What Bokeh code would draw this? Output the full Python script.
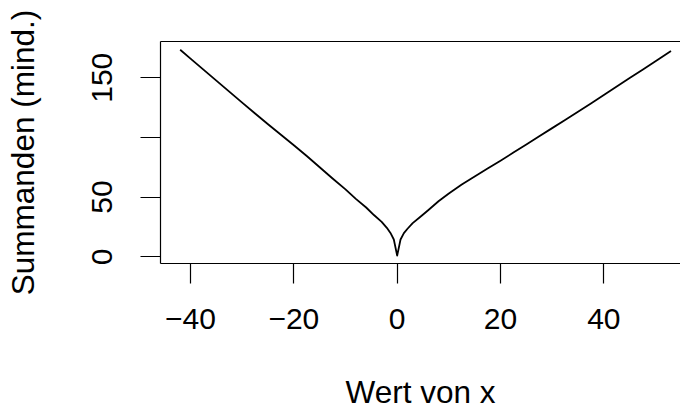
from bokeh.plotting import figure
from bokeh.models import Range1d, LinearAxis, FixedTicker
from bokeh.embed import file_html
from bokeh.resources import INLINE

# values
x_vals = [-42, -40, -37.5, -35, -32.5, -30, -27.5, -25, -22.5, -20, -17.5, -15,
          -12.5, -10, -8, -6, -4.5, -3, -2, -1.3, -0.65, 0,
          0.65, 1.3, 2, 3, 4.5, 6, 8, 10, 12.5, 15, 17.5, 20, 22.5, 25,
          27.5, 30, 32.5, 35, 37.5, 40, 42.5, 45, 47.5, 50, 53]
y_vals = [173.4, 166.0, 156.8, 147.6, 138.4, 129.2, 120.0, 111.0, 102.2, 93.5, 84.4, 75.0,
          65.6, 56.5, 48.5, 41.3, 35.0, 29.3, 24.3, 20.0, 14.5, 1.0,
          14.5, 19.8, 23.5, 28.2, 33.6, 39.0, 46.5, 53.0, 60.5, 67.3, 74.0, 80.5, 87.3, 94.0,
          101.0, 107.8, 114.6, 121.5, 128.4, 135.5, 142.6, 149.7, 156.7, 163.8, 172.3]

x_ticks = [-40, -20, 0, 20, 40]
x_tick_labels = {-40: "\u221240", -20: "\u221220", 0: "0", 20: "20", 40: "40"}
y_ticks = [0, 50, 100, 150]
y_tick_labels = {0: "0", 50: "50", 100: "", 150: "150"}
x_title = "Wert von x"
y_title = "Summanden (mind.)"

FONT = "Liberation Sans"

p = figure(width=680, height=412, output_backend="svg", toolbar_location=None,
           x_range=Range1d(-45.81, 54.84), y_range=Range1d(-5.6, 180.35),
           min_border_left=160, min_border_right=0, min_border_top=41,
           min_border_bottom=149, x_axis_location=None, y_axis_location=None)
p.outline_line_color = None
p.xgrid.visible = False
p.ygrid.visible = False
p.background_fill_color = "white"
p.border_fill_color = "white"

p.line(x_vals, y_vals, line_color="black", line_width=1.8, line_join="round")

xa = LinearAxis(ticker=FixedTicker(ticks=x_ticks), major_label_overrides=x_tick_labels)
ya = LinearAxis(ticker=FixedTicker(ticks=y_ticks), major_label_overrides=y_tick_labels)
for ax in (xa, ya):
    ax.axis_label_text_font = FONT
    ax.axis_label_text_font_size = "31.5px"
    ax.axis_label_text_font_style = "normal"
    ax.axis_label_text_color = "black"
    ax.major_label_text_font = FONT
    ax.major_label_text_font_size = "30px"
    ax.major_label_text_color = "black"
    ax.major_tick_out = 20
    ax.major_tick_in = 0
    ax.minor_tick_out = 0
    ax.minor_tick_in = 0
    ax.major_tick_line_width = 1.2
    ax.axis_line_width = 1.2
    ax.major_tick_line_color = "black"
    ax.axis_line_color = "black"
xa.axis_label = x_title
ya.axis_label = y_title
xa.major_label_standoff = 25
xa.axis_label_standoff = 42
ya.major_label_standoff = 28
ya.axis_label_standoff = 49
ya.major_label_orientation = "vertical"
p.add_layout(xa, "below")
p.add_layout(ya, "left")

top = LinearAxis(ticker=FixedTicker(ticks=[]), axis_line_width=1.2, axis_line_color="black",
                 major_tick_out=0, major_tick_in=0, minor_tick_out=0, minor_tick_in=0,
                 major_label_text_font_size="0px")
p.add_layout(top, "above")

open("out.html", "w").write(file_html(p, INLINE))
